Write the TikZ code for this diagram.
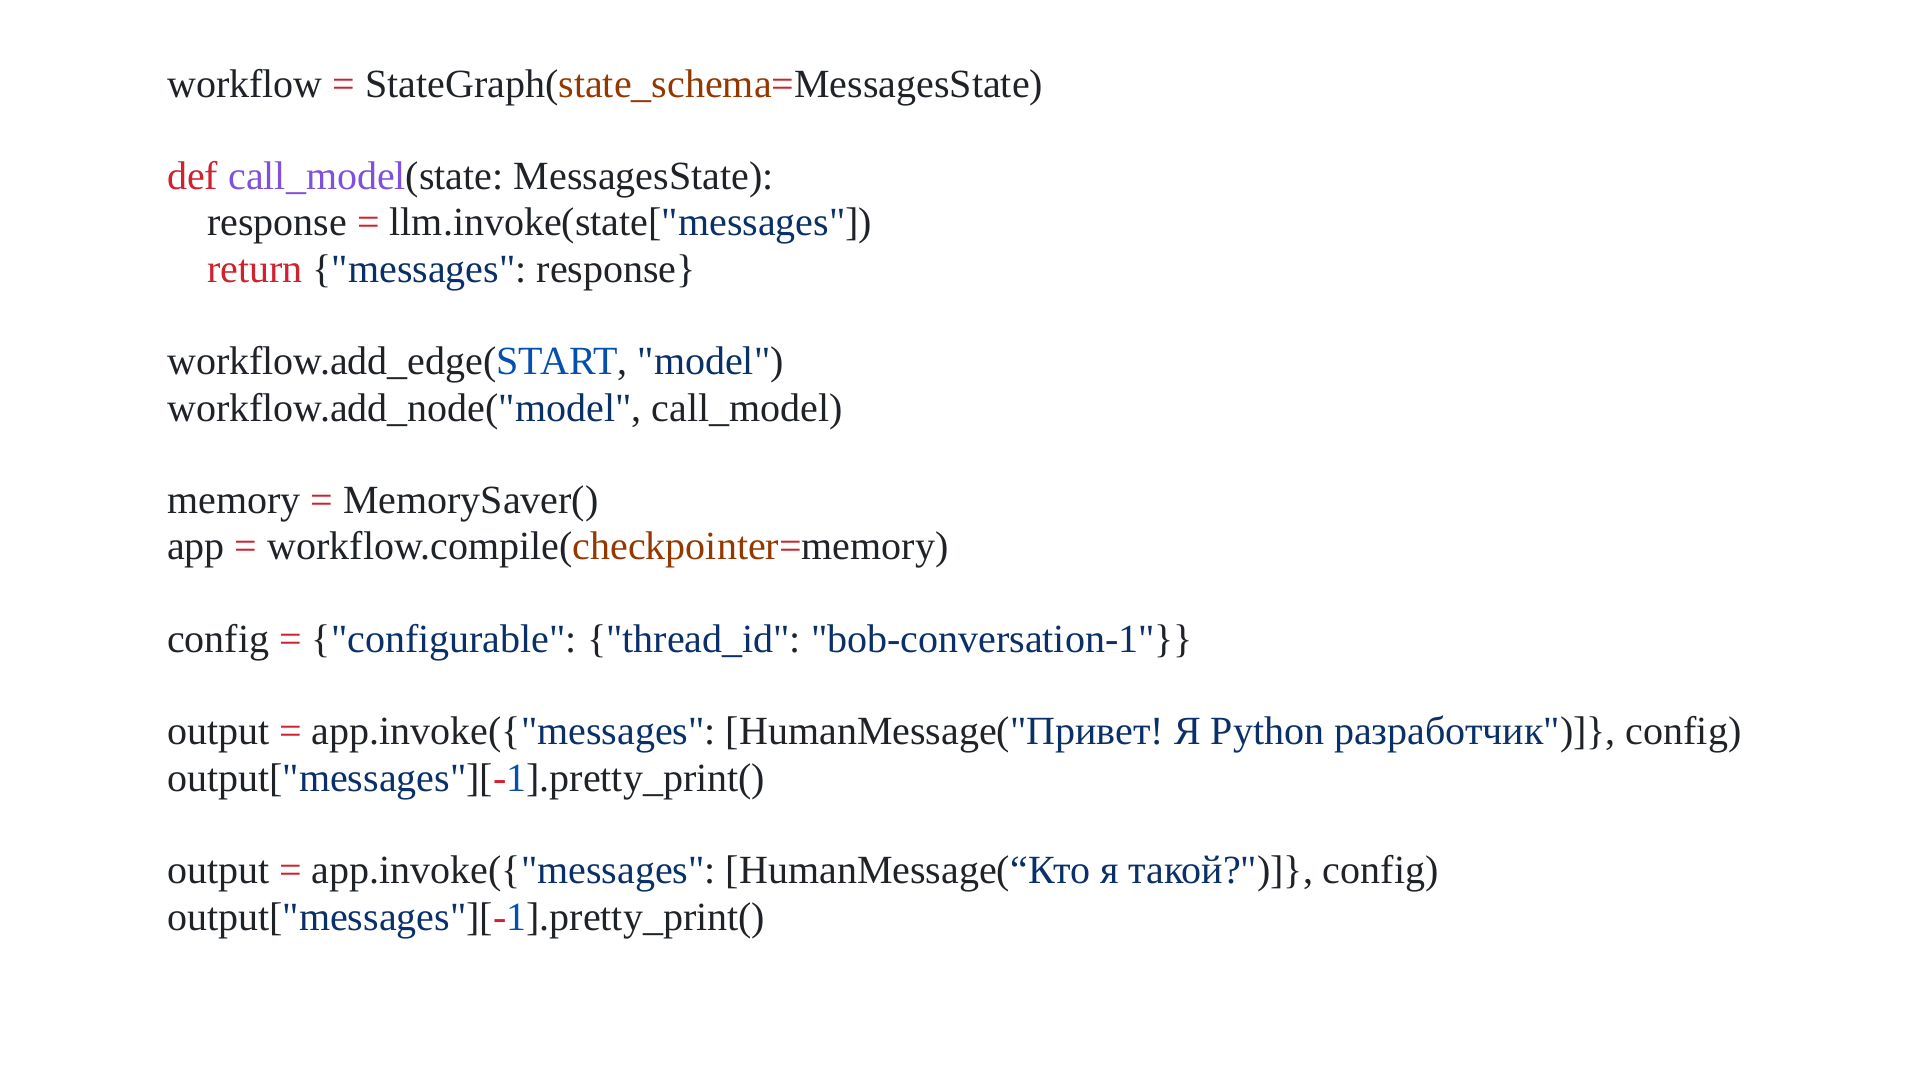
\documentclass[tikz,border=0pt]{standalone}
\usepackage{fontspec}
\setmainfont{Liberation Serif}[Ligatures=TeXOff]
\usepackage{xcolor}
\definecolor{codetext}{HTML}{1F2328}
\definecolor{kwred}{HTML}{CF222E}
\definecolor{fnpurple}{HTML}{8250DF}
\definecolor{strnavy}{HTML}{0A3069}
\definecolor{constblue}{HTML}{0550AE}
\definecolor{argbrown}{HTML}{953800}
\newcommand{\pykw}[1]{\textcolor{kwred}{#1}}
\newcommand{\pyop}[1]{\textcolor{kwred}{#1}}
\newcommand{\pyfn}[1]{\textcolor{fnpurple}{#1}}
\newcommand{\pystr}[1]{\textcolor{strnavy}{#1}}
\newcommand{\pyconst}[1]{\textcolor{constblue}{#1}}
\newcommand{\pyarg}[1]{\textcolor{argbrown}{#1}}
\frenchspacing
\tikzset{codeline/.style={anchor=base west,inner sep=0pt,text=codetext,font=\fontsize{40}{46}\selectfont}}

\begin{document}
\begin{tikzpicture}[x=1pt,y=-1pt]
	\useasboundingbox[fill=white] (0,0) rectangle (1920,1080);
	\node [codeline] (l1) at (167,97) {workflow \pyop{=} StateGraph(\pyarg{state\_schema}\pyop{=}MessagesState)};
	\node [codeline] (l2) at (167,189.6) {\pykw{def} \pyfn{call\_model}(state: MessagesState):};
	\node [codeline] (l3) at (207,235.8) {response \pyop{=} llm.invoke(state[\pystr{"messages"}])};
	\node [codeline] (l4) at (207,282.1) {\pykw{return} \{\pystr{"messages"}: response\}};
	\node [codeline] (l5) at (167,374.7) {workflow.add\_edge(\pyconst{START}, \pystr{"model"})};
	\node [codeline] (l6) at (167,421) {workflow.add\_node(\pystr{"model"}, call\_model)};
	\node [codeline] (l7) at (167,513.5) {memory \pyop{=} MemorySaver()};
	\node [codeline] (l8) at (167,559.8) {app \pyop{=} workflow.compile(\pyarg{checkpointer}\pyop{=}memory)};
	\node [codeline] (l9) at (167,652.4) {config \pyop{=} \{\pystr{"configurable"}: \{\pystr{"thread\_id"}: \pystr{"bob-conversation-1"}\}\}};
	\node [codeline] (l10) at (167,744.9) {output \pyop{=} app.invoke(\{\pystr{"messages"}: [HumanMessage(\pystr{"Привет! Я Python разработчик"})]\}, config)};
	\node [codeline] (l11) at (167,791.2) {output[\pystr{"messages"}][\pyop{-}\pyconst{1}].pretty\_print()};
	\node [codeline] (l12) at (167,883.8) {output \pyop{=} app.invoke(\{\pystr{"messages"}: [HumanMessage(\pystr{“Кто я такой?"})]\}, config)};
	\node [codeline] (l13) at (167,930) {output[\pystr{"messages"}][\pyop{-}\pyconst{1}].pretty\_print()};
\end{tikzpicture}
\end{document}
